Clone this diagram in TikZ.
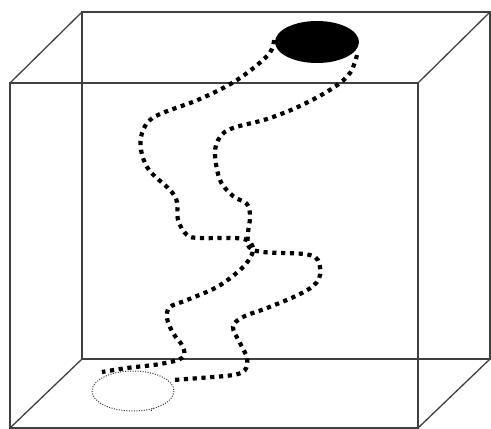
\documentclass[tikz,border=0pt]{standalone}
\begin{document}
\begin{tikzpicture}[x=1pt,y=-1pt,
  edge/.style={line width=1.3pt,draw=black!75},
  strand/.style={line width=4.2pt,line cap=butt,dash pattern=on 4.2pt off 4.6pt,draw=black},
  faint/.style={line width=1pt,dash pattern=on 1pt off 1.5pt,draw=black!80}]
\useasboundingbox (0,0) rectangle (491,429);
\clip (0,0) rectangle (491,429);
% back box
\coordinate (b1) at (82,12);
\coordinate (b2) at (490,12);
\coordinate (b3) at (490,359);
\coordinate (b4) at (82,359);
% front box
\coordinate (f1) at (10,83);
\coordinate (f2) at (418,83);
\coordinate (f3) at (418,428);
\coordinate (f4) at (10,428);
\draw[edge] (b1) -- (b2) -- (b3) -- (b4) -- cycle;
\draw[edge] (f1) -- (f2) -- (f3) -- (f4) -- cycle;
\draw[edge] (f1) -- (b1) (f2) -- (b2) (f3) -- (b3) (f4) -- (b4);
% ellipses
\coordinate (top) at (317,42);
\coordinate (bot) at (133,391);
\fill[black] (top) ellipse [x radius=42, y radius=21];
\draw[faint] (bot) ellipse [x radius=41, y radius=20];
\draw[faint] (bot) ++(60:41 and 20) -- ++(-3,3);
% strands
\draw[strand] plot[smooth,tension=0.6] coordinates {
 (274,40) (268,55) (237,80) (200,99) (165,112) (150,120) (142,133) (141,150)
 (149,170) (170,190) (177,202) (178,220) (187,235) (200,238) (233,238)
 (247,240) (253,248) (250,258) (240,270) (217,287) (187,300) (170,307)
 (167,318) (173,333) (183,347) (182,358) (160,364) (127,368) (102,372)};
\draw[strand] plot[smooth,tension=0.6] coordinates {
 (357,55) (350,73) (333,88) (300,106) (267,119) (233,128) (220,137) (215,153)
 (220,180) (233,196) (247,204) (250,217) (248,233) (249,247) (263,252)
 (310,255) (320,267) (317,282) (300,294) (267,308) (243,317) (233,327)
 (240,343) (247,358) (245,370) (233,375) (200,378) (173,380)};
\end{tikzpicture}
\end{document}
